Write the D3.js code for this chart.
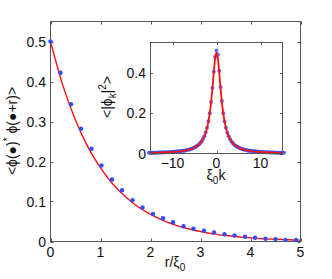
<!DOCTYPE html>
<html>
<head>
<meta charset="utf-8">
<script src="https://cdn.jsdelivr.net/npm/d3@7"></script>
<style>
  body { margin: 0; background: #fff; }
  svg { font-family: "Liberation Sans", Arial, sans-serif; }
  .tick-lbl { font-size: 14px; fill: #111; }
</style>
</head>
<body>
<svg width="332" height="279"></svg>
<script>
document.addEventListener('DOMContentLoaded', function () {
  "use strict";

  // main panel: correlation vs r/xi0
  var rPts = [0, 0.2, 0.41, 0.61, 0.82, 1.02, 1.23, 1.43, 1.64, 1.84, 2.05, 2.25, 2.45,
              2.66, 2.86, 3.07, 3.27, 3.48, 3.68, 3.89, 4.09, 4.3, 4.5, 4.7, 4.91];
  var corrPts = [0.5, 0.422, 0.343, 0.282, 0.232, 0.19, 0.155, 0.128, 0.103, 0.085, 0.069, 0.058, 0.048,
                 0.038, 0.032, 0.027, 0.0225, 0.018, 0.015, 0.012, 0.0093, 0.0068, 0.006, 0.004, 0.004];
  var rFit = [0, 0.25, 0.5, 0.75, 1, 1.25, 1.5, 1.75, 2, 2.25, 2.5, 2.75, 3, 3.25, 3.5, 3.75, 4, 4.25, 4.5, 4.75, 5];
  var corrFit = [0.5, 0.389, 0.303, 0.236, 0.184, 0.143, 0.112, 0.087, 0.068, 0.053, 0.041, 0.032, 0.025,
                 0.019, 0.015, 0.012, 0.009, 0.007, 0.0056, 0.0043, 0.0034];
  var mainXTicks = [0, 1, 2, 3, 4, 5];
  var mainYTicks = [0, 0.1, 0.2, 0.3, 0.4, 0.5];

  // inset: spectrum vs xi0 k
  var kPts = [-15.35, -15.04, -14.74, -14.43, -14.12, -13.82, -13.51, -13.2, -12.89, -12.59,
              -12.28, -11.97, -11.67, -11.36, -11.05, -10.75, -10.44, -10.13, -9.82, -9.52,
              -9.21, -8.9, -8.6, -8.29, -7.98, -7.68, -7.37, -7.06, -6.75, -6.45,
              -6.14, -5.83, -5.53, -5.22, -4.91, -4.61, -4.3, -3.99, -3.68, -3.38,
              -3.07, -2.76, -2.46, -2.15, -1.84, -1.54, -1.23, -0.92, -0.61, -0.31,
              0, 0.31, 0.61, 0.92, 1.23, 1.54, 1.84, 2.15, 2.46, 2.76,
              3.07, 3.38, 3.68, 3.99, 4.3, 4.61, 4.91, 5.22, 5.53, 5.83,
              6.14, 6.45, 6.75, 7.06, 7.37, 7.68, 7.98, 8.29, 8.6, 8.9,
              9.21, 9.52, 9.82, 10.13, 10.44, 10.75, 11.05, 11.36, 11.67, 11.97,
              12.28, 12.59, 12.89, 13.2, 13.51, 13.82, 14.12, 14.43, 14.74, 15.04, 15.35];
  var specPts = [0.0035, 0.0036, 0.0037, 0.0038, 0.0040, 0.0041, 0.0043, 0.0045, 0.0047, 0.0049,
                 0.0052, 0.0054, 0.0057, 0.0061, 0.0064, 0.0068, 0.0072, 0.0077, 0.0082, 0.0087,
                 0.0093, 0.0099, 0.0106, 0.0113, 0.0122, 0.0131, 0.0142, 0.0154, 0.0168, 0.0184,
                 0.0202, 0.0222, 0.0246, 0.0274, 0.0306, 0.0346, 0.0394, 0.045, 0.052, 0.061,
                 0.072, 0.086, 0.104, 0.127, 0.16, 0.2, 0.255, 0.325, 0.405, 0.478,
                 0.51, 0.49, 0.41, 0.33, 0.26, 0.2, 0.158, 0.127, 0.103, 0.085,
                 0.071, 0.06, 0.052, 0.045, 0.039, 0.0344, 0.0305, 0.0272, 0.0244, 0.022,
                 0.02, 0.0184, 0.0168, 0.0154, 0.0142, 0.0131, 0.0122, 0.0113, 0.0106, 0.0099,
                 0.0093, 0.0087, 0.0082, 0.0077, 0.0072, 0.0068, 0.0064, 0.0061, 0.0057, 0.0054,
                 0.0052, 0.0049, 0.0047, 0.0045, 0.0043, 0.0041, 0.004, 0.0038, 0.0037, 0.0036, 0.0035];
  var kFit = [-15, -12, -10, -8, -6, -5, -4, -3, -2.5, -2, -1.5, -1.25, -1, -0.75, -0.5, -0.25,
              0, 0.25, 0.5, 0.75, 1, 1.25, 1.5, 2, 2.5, 3, 4, 5, 6, 8, 10, 12, 15];
  var specFit = [0.0034, 0.0054, 0.0077, 0.0119, 0.0208, 0.0294, 0.0445, 0.074, 0.1, 0.1404, 0.2049, 0.25,
                 0.3049, 0.3676, 0.431, 0.4808, 0.5, 0.4808, 0.431, 0.3676, 0.3049, 0.25, 0.2049, 0.1404,
                 0.1, 0.074, 0.0445, 0.0294, 0.0208, 0.0119, 0.0077, 0.0054, 0.0034];
  var insetXTicks = [-10, 0, 10];
  var insetYTicks = [0, 0.2, 0.4];

  var svg = d3.select("svg");
  var axisColor = "#555";
  var dotColor = "#2f4dff";
  var lineColor = "#ff1010";
  var phi = "\u03D5";

  // draws a boxed MATLAB-like frame with inward ticks on all four sides
  function frame(g, x, y, xt, yt, tickLen) {
    var x0 = x.range()[0], x1 = x.range()[1], y0 = y.range()[0], y1 = y.range()[1];
    g.append("rect")
      .attr("x", x0).attr("y", y1)
      .attr("width", x1 - x0).attr("height", y0 - y1)
      .attr("fill", "none").attr("stroke", axisColor).attr("stroke-width", 1);
    xt.forEach(function (t) {
      var px = Math.round(x(t)) + 0.5;
      g.append("path").attr("d", "M" + px + "," + y0 + "V" + (y0 - tickLen) +
                                 "M" + px + "," + y1 + "V" + (y1 + tickLen))
        .attr("stroke", axisColor);
    });
    yt.forEach(function (t) {
      var py = Math.round(y(t)) + 0.5;
      g.append("path").attr("d", "M" + x0 + "," + py + "H" + (x0 + tickLen) +
                                 "M" + x1 + "," + py + "H" + (x1 - tickLen))
        .attr("stroke", axisColor);
    });
  }

  // ---- main panel
  var x = d3.scaleLinear().domain([0, 5]).range([50.5, 300.5]);
  var y = d3.scaleLinear().domain([0, 0.55]).range([241.5, 21.5]);
  var main = svg.append("g");

  frame(main, x, y, mainXTicks, mainYTicks, 3);

  main.append("path")
    .datum(d3.zip(rFit, corrFit))
    .attr("d", d3.line().x(function (d) { return x(d[0]); })
                        .y(function (d) { return y(d[1]); })
                        .curve(d3.curveCatmullRom))
    .attr("fill", "none").attr("stroke", lineColor).attr("stroke-width", 1.4);

  main.selectAll("circle.pt")
      .data(d3.zip(rPts, corrPts))
    .enter().append("circle")
      .attr("class", "pt")
      .attr("cx", function (d) { return x(d[0]); })
      .attr("cy", function (d) { return y(d[1]); })
      .attr("r", 2.2)
      .attr("fill", dotColor);

  main.selectAll("text.xl")
      .data(mainXTicks)
    .enter().append("text")
      .attr("class", "tick-lbl")
      .attr("x", function (d) { return x(d); })
      .attr("y", 257)
      .attr("text-anchor", "middle")
      .text(function (d) { return d; });

  main.selectAll("text.yl")
      .data(mainYTicks)
    .enter().append("text")
      .attr("class", "tick-lbl")
      .attr("x", 46)
      .attr("y", function (d) { return y(d) + 5; })
      .attr("text-anchor", "end")
      .text(function (d) { return d === 0 ? "0" : d3.format(".1f")(d); });

  var xl = main.append("text").attr("class", "tick-lbl")
    .attr("x", 175).attr("y", 267).attr("text-anchor", "middle");
  xl.append("tspan").text("r/ξ");
  xl.append("tspan").attr("font-size", 10).attr("dy", 4).text("0");

  var yl = main.append("text").attr("class", "tick-lbl")
    .attr("transform", "translate(17,131) rotate(-90)")
    .attr("text-anchor", "middle");
  yl.append("tspan").text("<" + phi + "(●)");
  yl.append("tspan").attr("font-size", 10).attr("dy", -6).text("*");
  yl.append("tspan").attr("dy", 6).text(" " + phi + "(●+r)>");

  // ---- inset
  var ix = d3.scaleLinear().domain([-15, 15]).range([150.5, 282.5]);
  var iy = d3.scaleLinear().domain([0, 0.55]).range([153.5, 42.5]);
  var inset = svg.append("g");

  inset.append("rect")
    .attr("x", ix.range()[0]).attr("y", iy.range()[1])
    .attr("width", ix.range()[1] - ix.range()[0])
    .attr("height", iy.range()[0] - iy.range()[1])
    .attr("fill", "#fff");

  inset.append("g").selectAll("circle")
      .data(d3.zip(kPts, specPts))
    .enter().append("circle")
      .attr("cx", function (d) { return ix(d[0]); })
      .attr("cy", function (d) { return iy(d[1]); })
      .attr("r", 2)
      .attr("fill", dotColor)
      .attr("fill-opacity", 0.8);

  inset.append("path")
    .datum(d3.zip(kFit, specFit))
    .attr("d", d3.line().x(function (d) { return ix(d[0]); })
                        .y(function (d) { return iy(d[1]); })
                        .curve(d3.curveCatmullRom))
    .attr("fill", "none").attr("stroke", lineColor).attr("stroke-width", 1.8);

  frame(inset, ix, iy, insetXTicks, insetYTicks, 2.5);

  inset.selectAll("text.xl")
      .data(insetXTicks)
    .enter().append("text")
      .attr("class", "tick-lbl")
      .attr("x", function (d) { return ix(d); })
      .attr("y", 168)
      .attr("text-anchor", "middle")
      .text(function (d) { return d < 0 ? "\u2212" + (-d) : d; });

  inset.selectAll("text.yl")
      .data(insetYTicks)
    .enter().append("text")
      .attr("class", "tick-lbl")
      .attr("x", 146)
      .attr("y", function (d) { return iy(d) + 5; })
      .attr("text-anchor", "end")
      .text(function (d) { return d === 0 ? "0" : d3.format(".1f")(d); });

  var ixl = inset.append("text").attr("class", "tick-lbl")
    .attr("x", 216).attr("y", 180).attr("text-anchor", "middle");
  ixl.append("tspan").text("ξ");
  ixl.append("tspan").attr("font-size", 10).attr("dy", 4).text("0");
  ixl.append("tspan").attr("dy", -4).text("k");

  var iyl = inset.append("text").attr("class", "tick-lbl")
    .attr("transform", "translate(112,97) rotate(-90)")
    .attr("text-anchor", "middle");
  iyl.append("tspan").text("<|" + phi);
  iyl.append("tspan").attr("font-size", 10).attr("dy", 4).text("k");
  iyl.append("tspan").attr("dy", -4).text("|");
  iyl.append("tspan").attr("font-size", 10).attr("dy", -6).text("2");
  iyl.append("tspan").attr("dy", 6).text(">");
}, false);
</script>
</body>
</html>
